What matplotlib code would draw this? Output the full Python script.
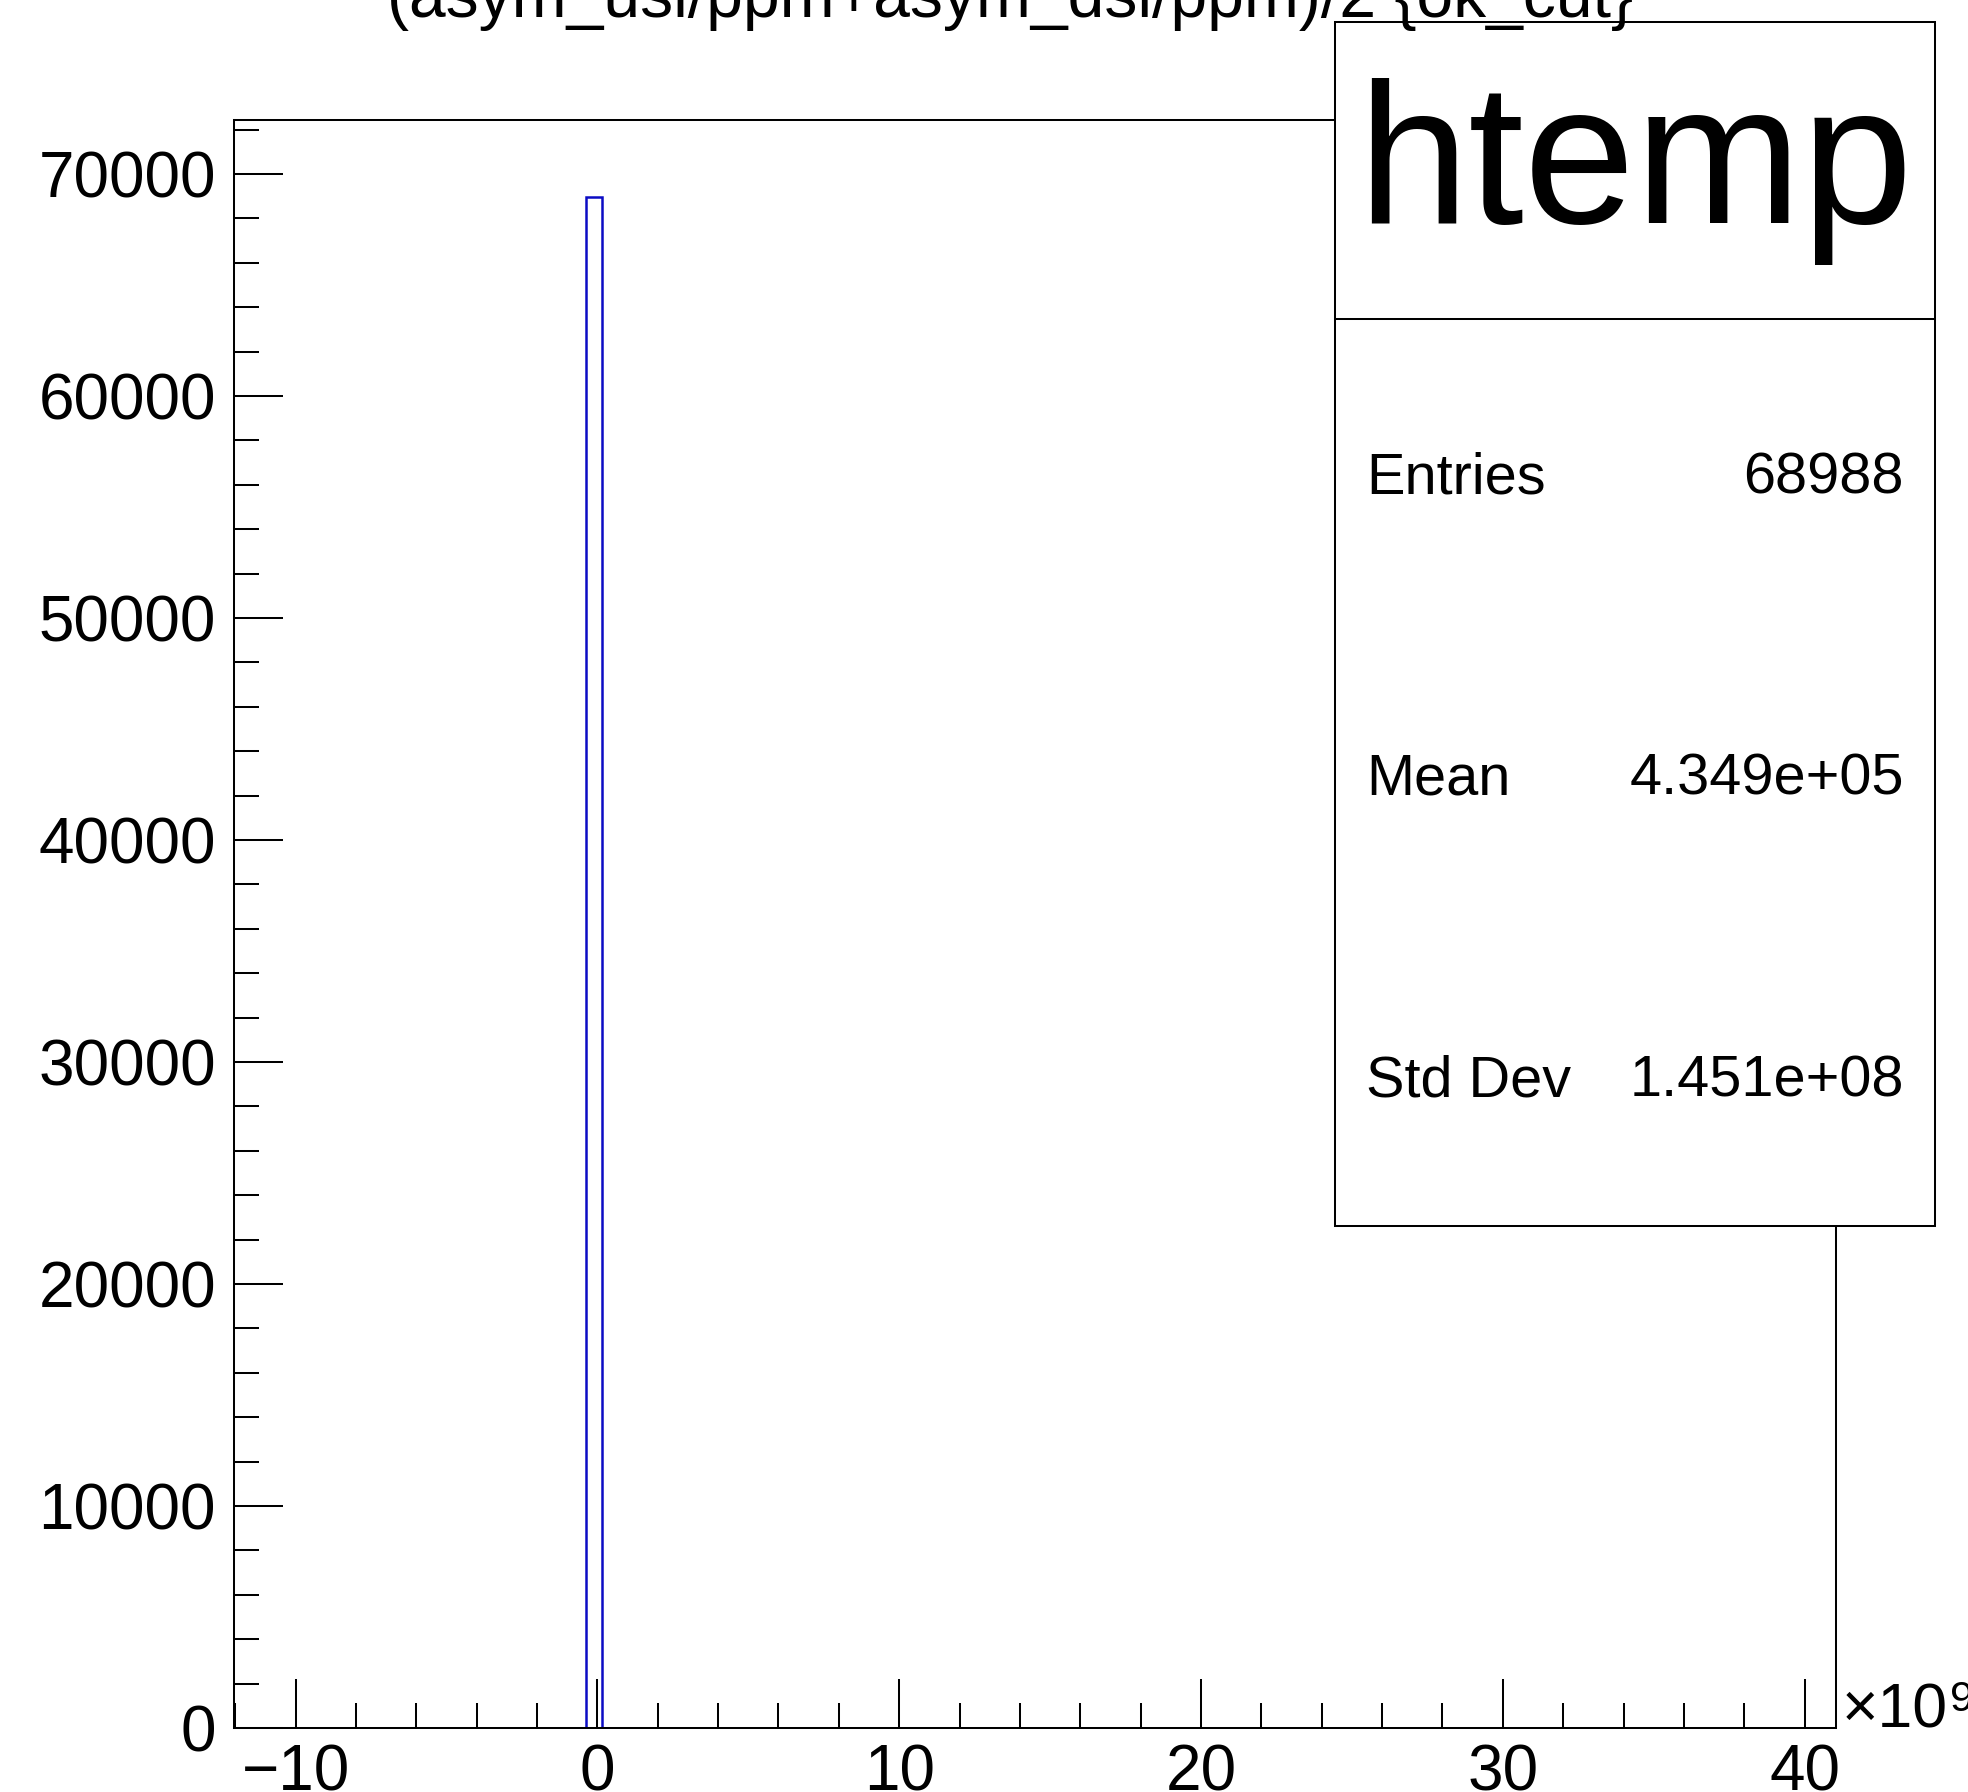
import numpy as np
import matplotlib
matplotlib.use("Agg")
import matplotlib.pyplot as plt
from matplotlib.ticker import MultipleLocator, FuncFormatter
from matplotlib.patches import Rectangle
from matplotlib.lines import Line2D

plt.rcParams['font.family'] = ['Liberation Sans', 'DejaVu Sans']

# ---------------- data ----------------
title = "(asym_usl/ppm+asym_dsl/ppm)/2 {ok_cut}"
hist_name = "htemp"
x_min = -12.04e9
x_max = 41.04e9
n_bins = 100
filled_bin_index = [8, 22, 93]
filled_bin_count = [1, 68986, 1]
stats_labels = ["Entries", "Mean", "Std Dev"]
stats_values = ["68988", "4.349e+05", "1.451e+08"]
y_max = 72435
x_exponent = "9"

# ---------------- layout ----------------
W, H = 1968, 1792
fig = plt.figure(figsize=(W / 100, H / 100), dpi=100)
fig.patch.set_facecolor('white')


def fx(x):
    return x / W


def fy(y):
    return 1 - y / H


L, R, T, B = 234, 1836, 120, 1728
ax = fig.add_axes([fx(L), fy(B), (R - L) / W, (B - T) / H])

edges = np.linspace(x_min, x_max, n_bins + 1)
counts = np.zeros(n_bins)
counts[filled_bin_index] = filled_bin_count
ax.stairs(counts, edges, color='#0b0bc4', lw=1.8, baseline=0, fill=False)

ax.set_xlim(x_min, x_max)
ax.set_ylim(0, y_max)

lw = 1.45
for s in ax.spines.values():
    s.set_linewidth(lw)
    s.set_color('black')

ax.xaxis.set_major_locator(MultipleLocator(10e9))
ax.xaxis.set_minor_locator(MultipleLocator(2e9))
ax.yaxis.set_major_locator(MultipleLocator(10000))
ax.yaxis.set_minor_locator(MultipleLocator(2000))
ax.xaxis.set_major_formatter(FuncFormatter(lambda v, p: f"{v / 1e9:g}".replace('-', '\u2212')))
ax.yaxis.set_major_formatter(FuncFormatter(lambda v, p: f"{v:.0f}"))

ax.tick_params(which='both', direction='in', top=False, right=False,
               width=lw, colors='black', labelsize=46)
ax.tick_params(which='major', length=35)
ax.tick_params(which='minor', length=18)
ax.tick_params(axis='x', which='major', pad=11)
ax.tick_params(axis='y', which='major', pad=13)

# exponent label
fig.text(fx(1842), fy(1727), "\u00d710", fontsize=45, ha='left', va='baseline')
fig.text(fx(1950), fy(1711), x_exponent, fontsize=31, ha='left', va='baseline')

# stats box
box = Rectangle((fx(1335), fy(1226)), (1935 - 1335) / W, (1226 - 22) / H,
                transform=fig.transFigure, facecolor='white', edgecolor='black',
                lw=lw, zorder=5)
fig.add_artist(box)
fig.add_artist(Line2D([fx(1335), fx(1935)], [fy(319), fy(319)],
                      transform=fig.transFigure, color='black', lw=lw, zorder=6))
fig.text(fx(1635), fy(223), hist_name, fontsize=144, ha='center', va='baseline', zorder=7)
row_baselines = [494, 794, 1096]
for lab, val, yb in zip(stats_labels, stats_values, row_baselines):
    fig.text(fx(1366), fy(yb), lab, fontsize=41.5, ha='left', va='baseline', zorder=7)
    fig.text(fx(1904), fy(yb), val, fontsize=41.5, ha='right', va='baseline', zorder=7)

# title
fig.text(fx(1010), fy(17), title, fontsize=47.5, ha='center', va='baseline', zorder=10)

fig.savefig("out.png", dpi=100)
